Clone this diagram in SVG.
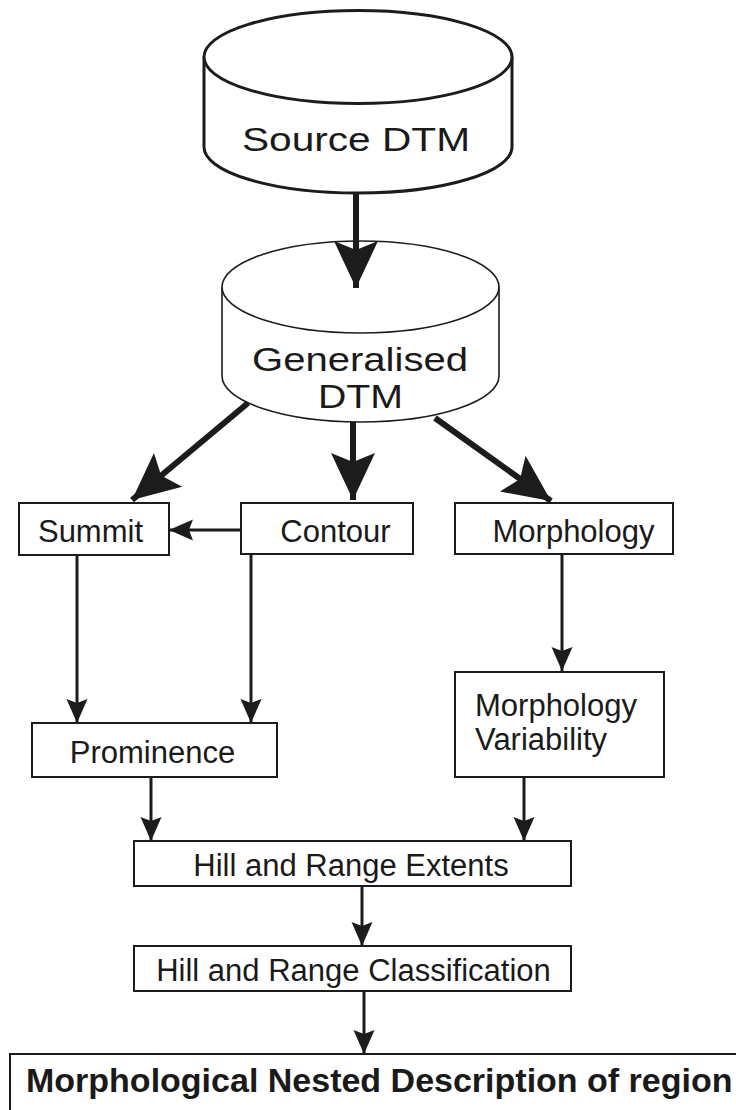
<svg xmlns="http://www.w3.org/2000/svg" width="736" height="1110" viewBox="0 0 736 1110">
<style>
  .box { fill: #fff; stroke: #1c1c1c; stroke-width: 2; }
  .cyl { fill: #fff; stroke: #1c1c1c; }
  .lbl { font-family: "Liberation Sans", Arial, sans-serif; font-size: 31px; fill: #1a1a1a; }
  .big { font-family: "Liberation Sans", Arial, sans-serif; font-size: 33px; fill: #1a1a1a; }
  .bold { font-family: "Liberation Sans", Arial, sans-serif; font-size: 34px; font-weight: bold; fill: #1a1a1a; }
  .thin { stroke: #1c1c1c; stroke-width: 3; fill: none; marker-end: url(#ah); }
  .thick { stroke: #1c1c1c; stroke-width: 6; fill: none; marker-end: url(#ahBig); }
</style>
<defs>
  <marker id="ah" markerUnits="userSpaceOnUse" markerWidth="26" markerHeight="24" viewBox="0 -12 24 24" refX="24" refY="0" orient="auto">
    <path d="M0,-10.5 L24,0 L0,10.5 L4,0 z" fill="#1c1c1c"/>
  </marker>
  <marker id="ahBig" markerUnits="userSpaceOnUse" markerWidth="48" markerHeight="48" viewBox="0 -24 48 48" refX="47" refY="0" orient="auto">
    <path d="M0,-22 L47,0 L0,22 L9,0 z" fill="#1c1c1c"/>
  </marker>
</defs>

<g id="source-dtm">
  <path class="cyl" stroke-width="3" d="M204,57 L204,147 A154,46 0 0 0 512,147 L512,57"/>
  <ellipse class="cyl" stroke-width="3" cx="358" cy="57" rx="154" ry="46.5"/>
  <text class="big" x="242" y="151" textLength="228" lengthAdjust="spacingAndGlyphs">Source DTM</text>
</g>

<g id="generalised-dtm">
  <path class="cyl" stroke-width="1.6" d="M222,287 L222,376 A138.5,46 0 0 0 499,376 L499,287"/>
  <ellipse class="cyl" stroke-width="1.6" cx="360.5" cy="287" rx="138.5" ry="46"/>
  <text class="big" x="252" y="371" textLength="216" lengthAdjust="spacingAndGlyphs">Generalised</text>
  <text class="big" x="318" y="408" textLength="85" lengthAdjust="spacingAndGlyphs">DTM</text>
</g>

<g id="summit">
  <rect class="box" x="19" y="503" width="150" height="52"/>
  <text class="lbl" x="90.5" y="542" text-anchor="middle">Summit</text>
</g>

<g id="contour">
  <rect class="box" x="241" y="503" width="172" height="51"/>
  <text class="lbl" x="335.5" y="542" text-anchor="middle">Contour</text>
</g>

<g id="morphology">
  <rect class="box" x="455" y="503" width="218" height="51"/>
  <text class="lbl" x="573.5" y="542" text-anchor="middle">Morphology</text>
</g>

<g id="prominence">
  <rect class="box" x="32" y="723" width="245" height="54"/>
  <text class="lbl" x="152.5" y="763" text-anchor="middle">Prominence</text>
</g>

<g id="morphology-variability">
  <rect class="box" x="455" y="672" width="209" height="105"/>
  <text class="lbl" x="475" y="716">Morphology</text>
  <text class="lbl" x="475" y="750">Variability</text>
</g>

<g id="hill-range-extents">
  <rect class="box" x="134" y="841" width="437" height="45"/>
  <text class="lbl" x="351" y="876" text-anchor="middle">Hill and Range Extents</text>
</g>

<g id="hill-range-classification">
  <rect class="box" x="134" y="946" width="437" height="45"/>
  <text class="lbl" x="353.5" y="981" text-anchor="middle">Hill and Range Classification</text>
</g>

<g id="nested-description">
  <rect class="box" stroke-width="3" x="10" y="1054" width="740" height="80"/>
  <text class="bold" x="26" y="1092">Morphological Nested Description of region</text>
</g>

<g id="connectors">
  <line class="thick" stroke-width="5" x1="356" y1="193" x2="356" y2="288"/>
  <line class="thick" x1="248" y1="403" x2="132" y2="500"/>
  <line class="thick" x1="353" y1="422" x2="353" y2="500"/>
  <line class="thick" x1="435" y1="418" x2="551" y2="501"/>
  <line class="thin" x1="241" y1="530" x2="169" y2="530"/>
  <line class="thin" x1="77" y1="555" x2="77" y2="723"/>
  <line class="thin" x1="251" y1="554" x2="251" y2="723"/>
  <line class="thin" x1="562" y1="554" x2="562" y2="671"/>
  <line class="thin" x1="151" y1="777" x2="151" y2="841"/>
  <line class="thin" x1="524" y1="777" x2="524" y2="841"/>
  <line class="thin" x1="362" y1="886" x2="362" y2="946"/>
  <line class="thin" x1="364" y1="991" x2="364" y2="1054"/>
</g>
</svg>
